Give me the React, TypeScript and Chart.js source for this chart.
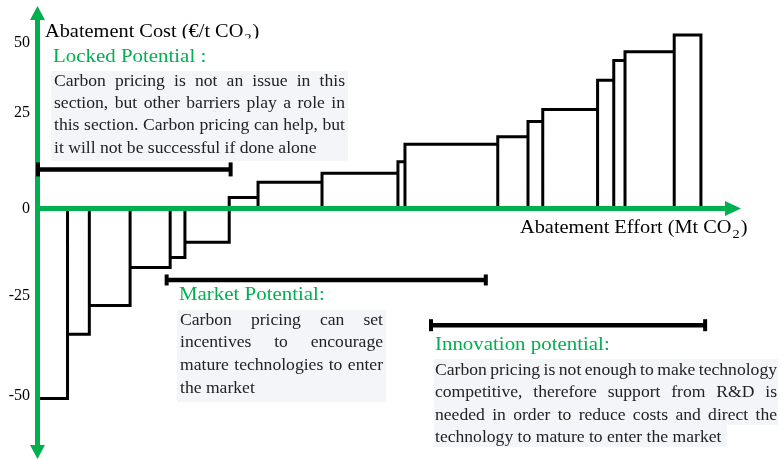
import React, { useEffect, useRef } from 'react';
import { Chart, registerables } from 'chart.js';

Chart.register(...registerables);

// ---- data ----
const widths = [4.2, 3.1, 5.8, 5.7, 2.1, 6.3, 4.1, 9.1, 10.8, 1.0, 13.2, 4.3, 2.1, 7.8, 2.3, 1.6, 7.0, 3.8];
const costs = [-50, -33.1, -25.5, -15.5, -12.9, -8.9, 2.9, 6.9, 9.3, 12.3, 16.9, 18.9, 22.9, 26.1, 33.8, 39, 41.3, 45.7];
const yTickValues = [43.7, 25.3, 0, -23, -49.3];
const yTickLabels = ['50', '25', '0', '-25', '-50'];
const bracketStart = [0, 18.3, 55.9];
const bracketEnd = [27.4, 63.7, 94.9];
const bracketLevel = [10.3, -18.8, -30.7];
const bracketCap = [7, 5.5, 6];

const yAxisTitle = 'Abatement Cost (€/t CO';
const xAxisTitle = 'Abatement Effort (Mt CO';
const lockedTitle = 'Locked Potential :';
const lockedLines = [
  'Carbon pricing is not an issue in this',
  'section, but other barriers play a role in',
  'this section. Carbon pricing can help, but',
  'it will not be successful if done alone',
];
const marketTitle = 'Market Potential:';
const marketLines = [
  'Carbon pricing can set',
  'incentives to encourage',
  'mature technologies to enter',
  'the market',
];
const innovTitle = 'Innovation potential:';
const innovLines = [
  'Carbon pricing is not enough to make technology',
  'competitive, therefore support from R&D is',
  'needed in order to reduce costs and direct the',
  'technology to mature to enter the market',
];

const GREEN = '#00B050';
const TEXT = '#222222';
const BOX = '#F3F5F8';
const FONT = '"Liberation Serif", "Times New Roman", serif';
const SX = 1.1;

function txt(ctx: CanvasRenderingContext2D, s: string, x: number, y: number, size: number, color: string) {
  ctx.save();
  ctx.font = `${size}px ${FONT}`;
  ctx.fillStyle = color;
  ctx.textBaseline = 'alphabetic';
  ctx.textAlign = 'left';
  ctx.translate(x, y);
  ctx.scale(SX, 1);
  ctx.fillText(s, 0, 0);
  const w = ctx.measureText(s).width * SX;
  ctx.restore();
  return w;
}

function para(ctx: CanvasRenderingContext2D, lines: string[], x: number, y: number, width: number, lh: number, size: number, color: string) {
  lines.forEach((line, i) => {
    const by = y + i * lh;
    if (i === lines.length - 1) {
      txt(ctx, line, x, by, size, color);
      return;
    }
    const words = line.split(' ');
    ctx.save();
    ctx.font = `${size}px ${FONT}`;
    const ws = words.map((w) => ctx.measureText(w).width * SX);
    ctx.restore();
    const total = ws.reduce((a, b) => a + b, 0);
    const gap = (width - total) / (words.length - 1);
    let cx = x;
    words.forEach((w, j) => {
      txt(ctx, w, cx, by, size, color);
      cx += ws[j] + gap;
    });
  });
}

const overlayPlugin = {
  id: 'overlay',
  afterDatasetDraw(chart: any, args: any) {
    if (args.index !== 3) return;
    const ctx: CanvasRenderingContext2D = chart.ctx;
    const xs = chart.scales.x;
    const ys = chart.scales.y;
    const x0 = xs.getPixelForValue(0) - 0.5;
    const y0 = ys.getPixelForValue(0);
    ctx.save();
    ctx.strokeStyle = GREEN;
    ctx.fillStyle = GREEN;
    ctx.lineWidth = 5;
    ctx.beginPath();
    ctx.moveTo(x0, 18);
    ctx.lineTo(x0, 447);
    ctx.moveTo(x0 - 2.5, y0);
    ctx.lineTo(727, y0);
    ctx.stroke();
    ctx.beginPath();
    ctx.moveTo(x0 - 7.5, 20);
    ctx.lineTo(x0 + 7.5, 20);
    ctx.lineTo(x0, 6);
    ctx.closePath();
    ctx.fill();
    ctx.beginPath();
    ctx.moveTo(x0 - 7.5, 445);
    ctx.lineTo(x0 + 7.5, 445);
    ctx.lineTo(x0, 459);
    ctx.closePath();
    ctx.fill();
    ctx.beginPath();
    ctx.moveTo(725, y0 - 7.5);
    ctx.lineTo(725, y0 + 7.5);
    ctx.lineTo(741, y0);
    ctx.closePath();
    ctx.fill();
    ctx.restore();
  },
  afterDraw(chart: any) {
    const ctx: CanvasRenderingContext2D = chart.ctx;
    ctx.save();
    ctx.fillStyle = BOX;
    ctx.fillRect(51, 71, 297, 90);
    ctx.fillRect(177, 310, 209, 92);
    ctx.fillRect(434, 359, 344, 66);
    ctx.fillRect(434, 425, 293, 22);
    ctx.restore();

    // y axis title (clipped at bottom like the reference)
    ctx.save();
    ctx.beginPath();
    ctx.rect(40, 0, 300, 38.5);
    ctx.clip();
    let w = txt(ctx, yAxisTitle, 45, 37, 18.5, '#000');
    const w2 = txt(ctx, '2', 45 + w + 1, 42, 13, '#000');
    txt(ctx, ')', 45 + w + w2 + 2, 37, 18.5, '#000');
    ctx.restore();

    // x axis title
    w = txt(ctx, xAxisTitle, 520, 233, 18.5, '#000');
    const w3 = txt(ctx, '2', 520 + w + 1, 237.5, 13, '#000');
    txt(ctx, ')', 520 + w + w3 + 2, 233, 18.5, '#000');

    // annotations
    txt(ctx, lockedTitle, 53, 62, 19, GREEN);
    para(ctx, lockedLines, 54, 85.5, 291, 22.4, 16, TEXT);
    txt(ctx, marketTitle, 179, 300, 19, GREEN);
    para(ctx, marketLines, 180, 324.5, 203, 22.8, 16, TEXT);
    txt(ctx, innovTitle, 435, 350, 19, GREEN);
    para(ctx, innovLines, 435, 375, 342, 22.3, 16, TEXT);
  },
};

export default function App() {
  const ref = useRef<HTMLCanvasElement>(null);
  useEffect(() => {
    if (!ref.current) return;
    const outline: { x: number; y: number }[] = [];
    let x = 0;
    costs.forEach((c, i) => {
      const x1 = x + widths[i];
      outline.push({ x, y: 0 }, { x, y: c }, { x: x1, y: c }, { x: x1, y: 0 });
      x = x1;
    });
    const brackets = bracketStart.map((s, i) => ({
      data: [
        { x: s, y: bracketLevel[i] },
        { x: bracketEnd[i], y: bracketLevel[i] },
      ],
      showLine: true,
      borderColor: '#000',
      borderWidth: 4.5,
      pointStyle: 'line' as const,
      pointRotation: 90,
      pointRadius: bracketCap[i],
      pointHoverRadius: bracketCap[i],
      pointBorderWidth: 4,
      pointBorderColor: '#000',
      pointBackgroundColor: '#000',
      clip: false as any,
    }));
    const chart = new Chart(ref.current, {
      type: 'scatter',
      data: {
        datasets: [
          ...brackets,
          {
            data: outline,
            showLine: true,
            borderColor: '#000',
            borderWidth: 3,
            pointRadius: 0,
            pointHoverRadius: 0,
            borderJoinStyle: 'miter',
            tension: 0,
            clip: false as any,
          },
        ],
      },
      options: {
        responsive: false,
        animation: false,
        devicePixelRatio: 1,
        layout: { autoPadding: false, padding: { left: 0, right: 40, top: 11, bottom: 4.5 } },
        plugins: { legend: { display: false }, tooltip: { enabled: false } },
        scales: {
          x: { type: 'linear', min: 0, max: 100, display: false },
          y: {
            type: 'linear',
            min: -65,
            max: 52,
            grid: { display: false, drawTicks: false },
            border: { display: false },
            afterBuildTicks: (scale: any) => {
              scale.ticks = yTickValues.map((v) => ({ value: v }));
            },
            afterFit: (scale: any) => {
              scale.width = 38;
              scale.paddingTop = 0;
              scale.paddingBottom = 0;
            },
            ticks: {
              autoSkip: false,
              padding: 8,
              color: '#000',
              font: { family: FONT, size: 16 },
              callback: (_v: any, i: number) => yTickLabels[i],
            },
          },
        },
      },
      plugins: [overlayPlugin],
    });
    return () => chart.destroy();
  }, []);
  return (
    <div style={{ position: 'absolute', left: 0, top: 0, width: 781, height: 460 }}>
      <canvas ref={ref} width={781} height={460} style={{ display: 'block' }} />
    </div>
  );
}
